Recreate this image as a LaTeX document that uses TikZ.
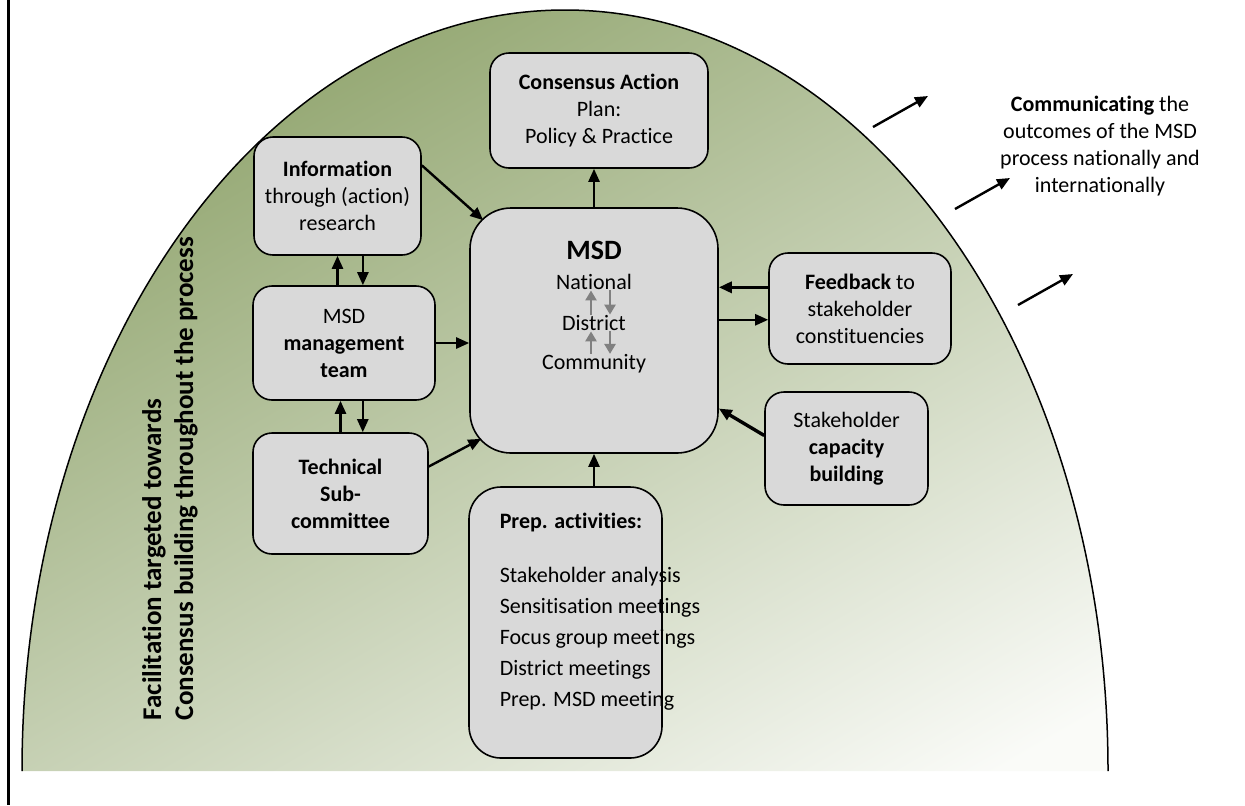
\documentclass[tikz,border=0pt]{standalone}
\usepackage{fontspec}
\setmainfont{Carlito}[Ligatures=NoCommon]
\usetikzlibrary{arrows.meta,calc}

\definecolor{boxgrey}{RGB}{217,217,217}
\definecolor{mossgreen}{RGB}{134,156,96}
\definecolor{sagegreen}{RGB}{188,199,165}
\definecolor{paleground}{RGB}{250,251,248}
\definecolor{levelgrey}{RGB}{128,128,128}

\tikzset{every picture/.style={line width=0.75pt}}
\tikzset{
  box/.style={draw, fill=boxgrey, line width=0.8pt, rounded corners=9.5pt, inner sep=0pt,
    align=center, font=\fontsize{11}{13.5}\selectfont},
  label/.style={inner sep=0pt, font=\fontsize{11}{13.5}\selectfont},
  flow/.style={line width=1.2pt, -{Triangle[length=6.5pt,width=5.5pt]}},
  heavyflow/.style={flow, line width=1.7pt},
  levelflow/.style={draw=levelgrey, line width=1.3pt, -{Triangle[length=5pt,width=5.5pt]}},
}

\begin{document}
\begin{tikzpicture}[x=0.5pt,y=0.5pt,yscale=-1,xscale=1]
\useasboundingbox (0,0) rectangle (1245,805);

%Straight Lines
\draw [line width=1.5pt] (8,0) -- (8,805) ;

%Shape: Half Ellipse
\begin{scope}
\clip (22,771) .. controls (22,350) and (265,10) .. (565,10) .. controls (865,10) and (1108,350) .. (1108,771) -- cycle ;
\shade [top color=mossgreen, middle color=sagegreen, bottom color=paleground, shading angle=30]
  (15,-160) rectangle (1115,940) ;
\end{scope}
\draw (22,771) .. controls (22,350) and (265,10) .. (565,10) .. controls (865,10) and (1108,350) .. (1108,771) ;

% Text Node
\node [label, rotate=90, anchor=west, align=left, font=\fontsize{13.5}{16}\selectfont\bfseries] (facil) at (170,721)
  {Facilitation targeted towards\\Consensus building throughout the process};

%Rounded Rect
\node [box, minimum width=109pt, minimum height=57.5pt] (consensus) at (599,110.5)
  {\textbf{Consensus Action}\\Plan:\\Policy \& Practice};
%Rounded Rect
\node [box, minimum width=83.5pt, minimum height=59pt] (info) at (337.5,196)
  {\textbf{Information}\\through (action)\\research};
%Rounded Rect
\node [box, minimum width=91pt, minimum height=57pt] (mgmt) at (344,343)
  {MSD\\\textbf{management}\\\textbf{team}};
%Rounded Rect
\node [box, minimum width=87.5pt, minimum height=60.5pt] (tech) at (340.5,493.5)
  {\textbf{Technical}\\\textbf{Sub-}\\\textbf{committee}};
%Rounded Rect
\node [box, minimum width=124pt, minimum height=122.5pt, rounded corners=20.5pt] (msd) at (594,330.5) {};
%Rounded Rect
\node [box, minimum width=91pt, minimum height=55.5pt] (feedback) at (860,308.5)
  {\textbf{Feedback} to\\stakeholder\\constituencies};
%Rounded Rect
\node [box, minimum width=81.5pt, minimum height=56.5pt] (capacity) at (846.5,448.5)
  {Stakeholder\\\textbf{capacity}\\\textbf{building}};
%Rounded Rect
\node [box, minimum width=96.5pt, minimum height=135.5pt, rounded corners=16pt] (prep) at (565.5,622.5) {};

% Text Node
\node [label, font=\fontsize{14}{17}\selectfont\bfseries] (msdtitle) at (594,250) {MSD};
\node [label] (natl) at (594,282) {National};
\node [label] (dist) at (594,323) {District};
\node [label] (comm) at (594,364) {Community};
% Text Node
\node [label, anchor=north west, align=left, font=\fontsize{11}{15.5}\selectfont] (preplist) at (499,512)
  {\textbf{Prep. activities:}\\[11.5pt]Stakeholder analysis\\Sensitisation meetings\\Focus group meetings\\District meetings\\Prep. MSD meeting};
% Text Node
\node [label, align=center] (outreach) at (1100,146)
  {\textbf{Communicating} the\\outcomes of the MSD\\process nationally and\\internationally};

%Straight Lines
\draw [levelflow] ([xshift=-1.5pt]dist.north) -- ([xshift=-1.5pt]natl.south) ;
\draw [levelflow] ([xshift=8pt]natl.south) -- ([xshift=8pt]dist.north) ;
\draw [levelflow] ([xshift=-1.5pt]comm.north) -- ([xshift=-1.5pt]dist.south) ;
\draw [levelflow] ([xshift=8pt]dist.south) -- ([xshift=8pt]comm.north) ;

%Straight Lines
\draw [flow] (msd.north) -- (msd.north |- consensus.south) ;
\draw [flow] (info.20) -- ($(msd.north west)+(14,13)$) ;
\draw [flow] (mgmt.north -| info.south) -- (info.south) ;
\draw [flow] (info.-67) -- (info.-67 |- mgmt.north) ;
\draw [flow] (mgmt.east) -- (mgmt.east -| msd.west) ;
\draw [flow] (tech.north) -- (tech.north |- mgmt.south) ;
\draw [flow] (mgmt.-72) -- (mgmt.-72 |- tech.north) ;
\draw [flow] (tech.17) -- ($(msd.south west)+(12,-15)$) ;
\draw [flow] (msd.south |- prep.north) -- (msd.south) ;
\draw [heavyflow] (feedback.167) -- (feedback.167 -| msd.east) ;
\draw [flow] (msd.east |- feedback.187) -- (feedback.187) ;
\draw [heavyflow] (capacity.171) -- (msd.-32) ;

%Straight Lines
\foreach \sx/\sy in {873/127, 955/209, 1018/305}
  \draw [flow] (\sx,\sy) -- ++(55,-31) ;

\end{tikzpicture}
\end{document}
